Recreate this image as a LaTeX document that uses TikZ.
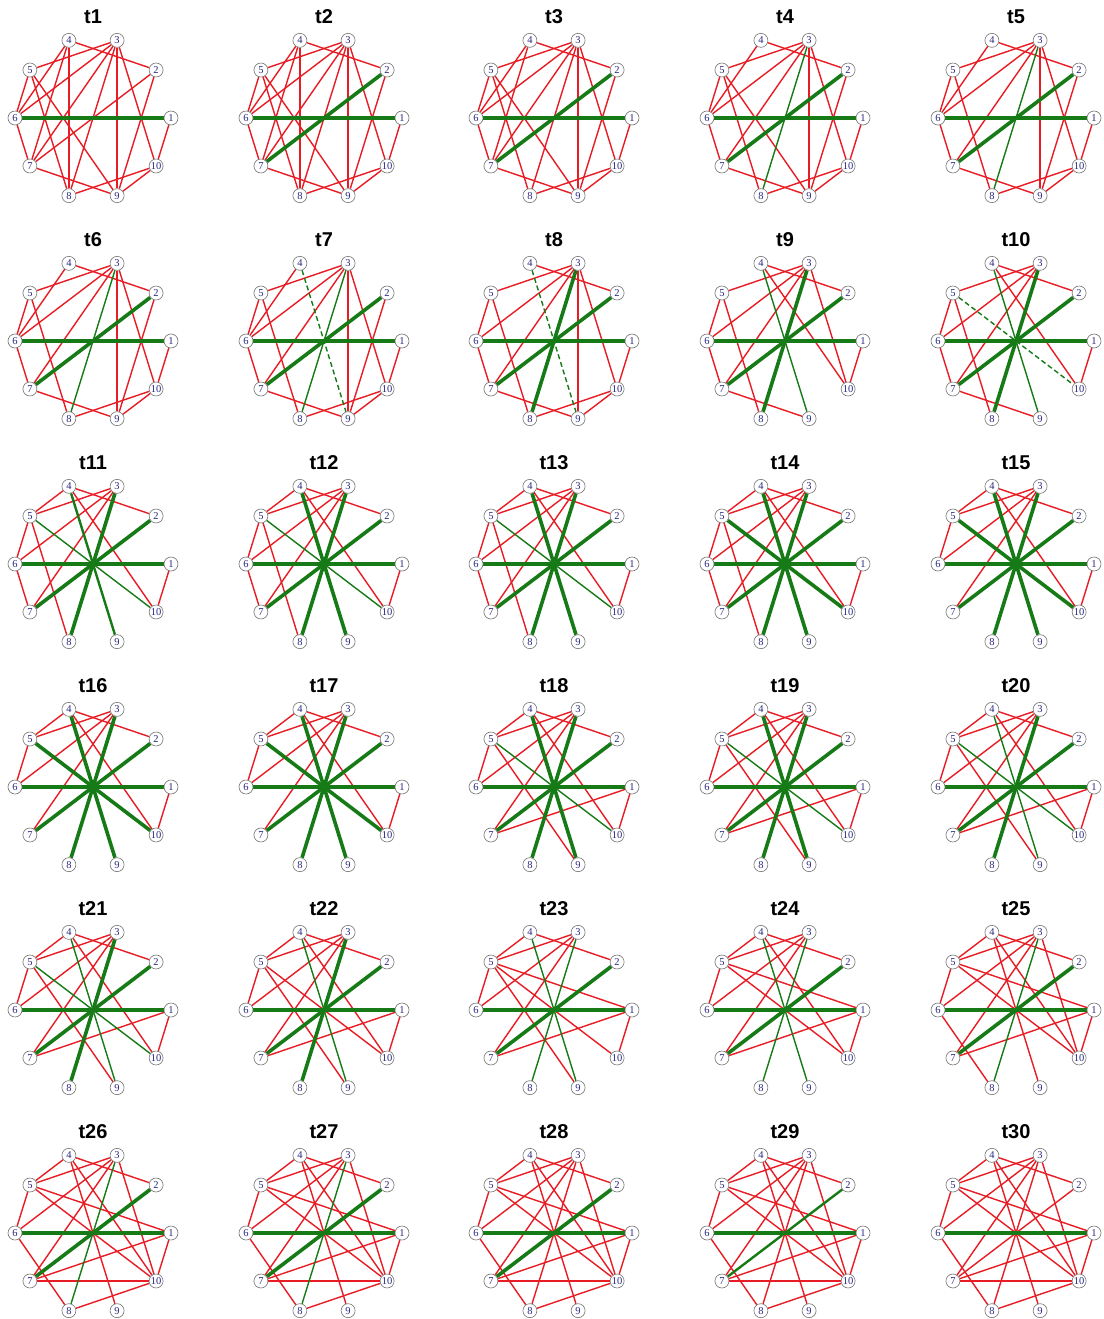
\documentclass[tikz,border=0pt]{standalone}
\usepackage{fontspec}
\setmainfont{Liberation Serif}
\newfontfamily\ttlfont{Liberation Sans}
\usetikzlibrary{backgrounds}
\definecolor{edgered}{RGB}{232,28,36}
\definecolor{edgegreen}{RGB}{22,122,22}
\definecolor{numblue}{RGB}{40,40,130}
\tikzset{
 vtx/.style={circle,draw=black!55,fill=white,line width=0.6pt,minimum size=14pt,inner sep=0pt,font=\fontsize{10.5}{11}\selectfont,text=numblue},
 ttl/.style={font=\ttlfont\bfseries\fontsize{20}{22}\selectfont},
 redE/.style={draw=edgered,line width=1.4pt},
 gthick/.style={draw=edgegreen,line width=3.6pt},
 gmed/.style={draw=edgegreen,line width=2.4pt},
 gthin/.style={draw=edgegreen,line width=1.4pt},
 gdash/.style={draw=edgegreen,line width=1.4pt,dash pattern=on 5pt off 3pt},
}
\newcommand\panel[3]{%
 \node[ttl] (t#1) at (#2,#3-101) {t#1};
 \foreach \k in {1,...,10}{%
  \node[vtx] (p#1-\k) at ({#2+78*cos((\k-1)*36)},{#3-81.66*sin((\k-1)*36)}) {\k};
 }%
}
\newcommand\redset[2]{\foreach \a/\b in {#2}{\draw[redE] (p#1-\a) -- (p#1-\b);}}
\newcommand\thickset[2]{\foreach \a/\b in {#2}{\draw[gthick] (p#1-\a) -- (p#1-\b);}}
\newcommand\medset[2]{\foreach \a/\b in {#2}{\draw[gmed] (p#1-\a) -- (p#1-\b);}}
\newcommand\thinset[2]{\foreach \a/\b in {#2}{\draw[gthin] (p#1-\a) -- (p#1-\b);}}
\newcommand\dashset[2]{\foreach \a/\b in {#2}{\draw[gdash] (p#1-\a) -- (p#1-\b);}}
\begin{document}
\begin{tikzpicture}[x=1pt,y=-1pt]
\useasboundingbox (0,0) rectangle (1103,1319);
% row 1
\panel{1}{93}{118}
\panel{2}{324}{118}
\panel{3}{554}{118}
\panel{4}{785}{118}
\panel{5}{1016}{118}
% row 2
\panel{6}{93}{341}
\panel{7}{324}{341}
\panel{8}{554}{341}
\panel{9}{785}{341}
\panel{10}{1016}{341}
% row 3
\panel{11}{93}{564}
\panel{12}{324}{564}
\panel{13}{554}{564}
\panel{14}{785}{564}
\panel{15}{1016}{564}
% row 4
\panel{16}{93}{787}
\panel{17}{324}{787}
\panel{18}{554}{787}
\panel{19}{785}{787}
\panel{20}{1016}{787}
% row 5
\panel{21}{93}{1010}
\panel{22}{324}{1010}
\panel{23}{554}{1010}
\panel{24}{785}{1010}
\panel{25}{1016}{1010}
% row 6
\panel{26}{93}{1233}
\panel{27}{324}{1233}
\panel{28}{554}{1233}
\panel{29}{785}{1233}
\panel{30}{1016}{1233}
\begin{pgfonlayer}{background}
\fill[white] (0,0) rectangle (1103,1319);
% t1
\redset{1}{2/4,4/6,4/7,4/8,3/5,5/6,5/8,5/9,3/6,3/7,3/8,3/9,3/10,2/7,2/9,6/7,7/9,8/10,9/10,1/10}
\thickset{1}{6/1}
% t2
\redset{2}{2/4,4/6,4/7,4/8,3/5,5/6,5/8,5/9,3/6,3/7,3/8,3/9,3/10,2/9,6/7,7/9,8/10,9/10,1/10}
\thickset{2}{6/1,2/7}
% t3
\redset{3}{2/4,4/6,4/7,3/5,5/6,5/8,5/9,3/6,3/7,3/8,3/9,3/10,2/9,6/7,7/9,8/10,9/10,1/10}
\thickset{3}{6/1,2/7}
% t4
\redset{4}{2/4,4/6,3/5,5/6,5/8,5/9,3/6,3/7,3/9,3/10,2/9,6/7,7/9,8/10,9/10,1/10}
\thickset{4}{6/1,2/7}
\thinset{4}{3/8}
% t5
\redset{5}{2/4,4/6,3/5,5/6,5/8,3/6,3/7,3/9,3/10,2/9,6/7,7/9,8/10,9/10,1/10}
\thickset{5}{6/1,2/7}
\thinset{5}{3/8}
% t6
\redset{6}{2/4,4/6,3/5,5/6,5/8,3/6,3/7,3/9,3/10,2/9,6/7,7/9,8/10,9/10,1/10}
\thickset{6}{6/1,2/7}
\thinset{6}{3/8}
% t7
\redset{7}{4/6,3/5,5/6,5/8,3/6,3/7,3/9,3/10,2/9,6/7,7/9,8/10,9/10,1/10}
\thickset{7}{6/1,2/7}
\thinset{7}{3/8}
\dashset{7}{4/9}
% t8
\redset{8}{2/4,3/5,3/6,3/7,3/9,3/10,5/6,5/8,6/7,7/9,8/10,9/10,1/10}
\thickset{8}{6/1,2/7,3/8}
\dashset{8}{4/9}
% t9
\redset{9}{2/4,4/10,3/5,5/6,5/8,3/6,3/7,3/10,6/7,7/9,1/10}
\thickset{9}{6/1,2/7,3/8}
\thinset{9}{4/9}
% t10
\redset{10}{2/4,4/10,3/5,5/6,5/8,3/6,3/7,6/7,7/9,1/10}
\thickset{10}{6/1,2/7,3/8}
\thinset{10}{4/9}
\dashset{10}{5/10}
% t11
\redset{11}{2/4,4/5,4/10,3/5,5/6,5/8,3/6,3/7,6/7,1/10}
\thickset{11}{6/1,2/7,3/8}
\medset{11}{4/9}
\thinset{11}{5/10}
% t12
\redset{12}{2/4,4/5,4/10,3/5,5/6,5/8,3/6,3/7,6/7,1/10}
\thickset{12}{6/1,2/7,3/8,4/9}
\thinset{12}{5/10}
% t13
\redset{13}{2/4,4/5,4/10,3/5,5/6,5/8,3/6,3/7,6/7,1/10}
\thickset{13}{6/1,2/7,3/8,4/9}
\thinset{13}{5/10}
% t14
\redset{14}{2/4,4/5,4/10,3/5,5/6,5/8,3/6,3/7,6/7,1/10}
\thickset{14}{6/1,2/7,3/8,4/9,5/10}
% t15
\redset{15}{2/4,4/5,4/10,3/5,5/6,3/6,3/7,1/10}
\thickset{15}{6/1,2/7,3/8,4/9,5/10}
% t16
\redset{16}{2/4,4/5,4/10,3/5,5/6,3/6,3/7,1/10}
\thickset{16}{6/1,2/7,3/8,4/9,5/10}
% t17
\redset{17}{2/4,4/5,4/10,3/5,5/6,3/6,3/7,1/10}
\thickset{17}{6/1,2/7,3/8,4/9,5/10}
% t18
\redset{18}{2/4,4/5,4/10,3/5,5/6,5/9,3/6,3/7,1/7,1/10}
\thickset{18}{6/1,2/7,3/8,4/9}
\thinset{18}{5/10}
% t19
\redset{19}{2/4,4/5,4/10,3/5,5/6,5/9,3/6,3/7,1/7,1/10}
\thickset{19}{6/1,2/7,3/8,4/9}
\thinset{19}{5/10}
% t20
\redset{20}{2/4,4/5,4/10,3/5,5/6,5/9,3/6,3/7,1/7,1/10}
\thickset{20}{6/1,2/7,3/8}
\thinset{20}{4/9,5/10}
% t21
\redset{21}{2/4,4/5,4/10,3/5,5/6,5/9,3/6,3/7,1/7,1/10}
\thickset{21}{6/1,2/7,3/8}
\thinset{21}{4/9,5/10}
% t22
\redset{22}{2/4,4/5,4/10,3/5,5/6,5/9,5/10,3/6,3/7,1/7,1/10}
\thickset{22}{6/1,2/7,3/8}
\thinset{22}{4/9}
% t23
\redset{23}{2/4,4/5,3/5,5/6,5/9,5/10,1/5,3/6,3/7,1/7,1/10}
\thickset{23}{6/1,2/7}
\thinset{23}{3/8,4/9}
% t24
\redset{24}{2/4,4/5,4/10,3/5,5/6,5/10,1/5,3/6,3/7,1/7,1/10}
\thickset{24}{6/1,2/7}
\thinset{24}{3/8,4/9}
% t25
\redset{25}{2/4,4/5,4/9,4/10,3/5,5/6,5/10,1/5,3/6,3/7,3/10,6/8,1/7,1/10}
\thickset{25}{6/1,2/7}
\thinset{25}{3/8}
% t26
\redset{26}{2/4,4/5,4/9,4/10,3/5,5/6,5/10,1/5,3/6,3/7,3/10,6/8,1/7,1/10,7/10,8/10}
\thickset{26}{6/1,2/7}
\thinset{26}{3/8}
% t27
\redset{27}{2/4,4/5,4/9,4/10,3/5,5/6,5/10,1/5,3/6,3/7,3/10,6/8,1/7,1/10,7/10,8/10}
\thickset{27}{6/1,2/7}
\thinset{27}{3/8}
% t28
\redset{28}{2/4,4/5,4/9,4/10,3/5,5/6,5/10,1/5,3/6,3/7,3/8,3/10,6/8,1/7,1/10,7/10,8/10}
\thickset{28}{6/1,2/7}
% t29
\redset{29}{2/4,4/5,4/9,4/10,3/5,5/6,5/10,1/5,3/6,3/7,3/8,3/10,6/8,1/7,1/10,7/10,8/10}
\thickset{29}{6/1}
\medset{29}{2/7}
% t30
\redset{30}{2/4,2/7,4/5,4/9,4/10,3/5,5/6,5/10,1/5,3/6,3/7,3/8,3/10,6/8,1/7,1/10,7/10,8/10}
\thickset{30}{6/1}
\end{pgfonlayer}
\end{tikzpicture}
\end{document}
